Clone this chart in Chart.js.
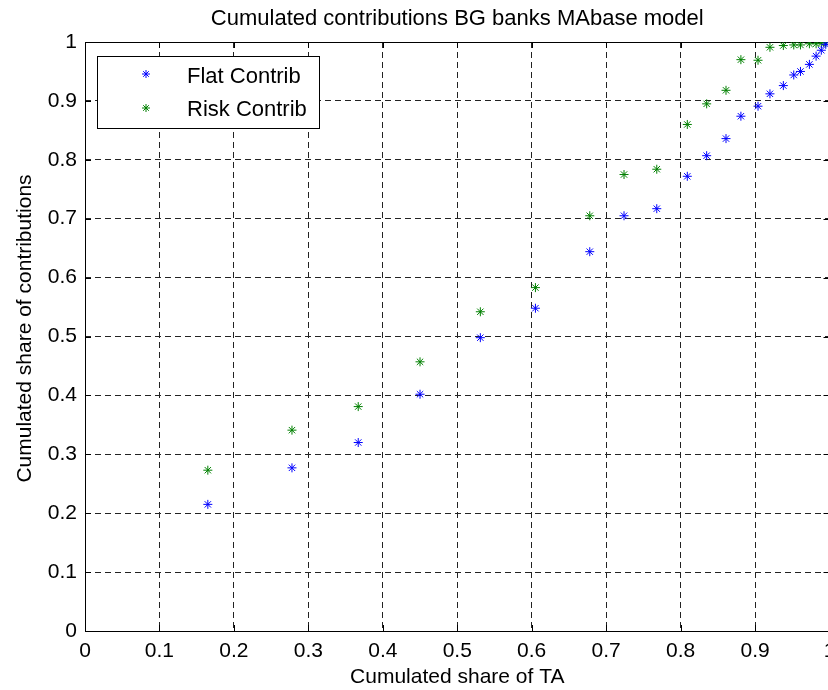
<!DOCTYPE html>
<html>
<head>
<meta charset="utf-8">
<script src="https://cdn.jsdelivr.net/npm/chart.js@4/dist/chart.umd.min.js"></script>
<style>
  html, body { margin: 0; padding: 0; background: #fff; overflow: hidden; }
  #clip { position: relative; width: 828px; height: 690px; overflow: hidden; }
  #myChart { position: absolute; left: 0; top: 0; }
</style>
</head>
<body>
<div id="clip"><canvas id="myChart" width="840" height="690"></canvas></div>
<script>
// cumulated share of total assets (x), shared by both series
const shareTA = [0.165, 0.278, 0.367, 0.450, 0.531, 0.605, 0.678, 0.724, 0.768, 0.809, 0.835,
                 0.861, 0.881, 0.904, 0.920, 0.938, 0.952, 0.961, 0.973, 0.982, 0.989, 0.995];
const flatContrib = [0.215, 0.277, 0.320, 0.402, 0.498, 0.548, 0.644, 0.705, 0.717, 0.772, 0.807,
                     0.836, 0.874, 0.891, 0.912, 0.926, 0.944, 0.950, 0.962, 0.976, 0.986, 0.996];
const riskContrib = [0.273, 0.341, 0.381, 0.457, 0.542, 0.583, 0.705, 0.775, 0.784, 0.860, 0.895,
                     0.918, 0.970, 0.969, 0.991, 0.994, 0.995, 0.995, 0.997, 0.997, 0.998, 0.999];
const tickLabels = ['0', '0.1', '0.2', '0.3', '0.4', '0.5', '0.6', '0.7', '0.8', '0.9', '1'];
const seriesNames = ['Flat Contrib', 'Risk Contrib'];
const chartTitle = 'Cumulated contributions BG banks MAbase model';
const yTitle = 'Cumulated share of contributions';

const FONT = 'Liberation Sans, Arial, Helvetica, sans-serif';

function toPoints(ys) {
    return shareTA.map(function(x, i) { return { x: x, y: ys[i] }; });
}

function star(ctx, x, y, r, color) {
    ctx.save();
    ctx.strokeStyle = color;
    ctx.lineWidth = 1;
    ctx.beginPath();
    ctx.moveTo(x - r, y); ctx.lineTo(x + r, y);
    ctx.moveTo(x, y - r); ctx.lineTo(x, y + r);
    const d = r * 0.7;
    ctx.moveTo(x - d, y - d); ctx.lineTo(x + d, y + d);
    ctx.moveTo(x - d, y + d); ctx.lineTo(x + d, y - d);
    ctx.stroke();
    ctx.restore();
}

// axes box, inward ticks, titles and legend
const frame = {
    id: 'frame',
    beforeDatasetsDraw(chart) {
        const ctx = chart.ctx;
        const a = chart.chartArea;
        const xs = chart.scales.x, ys = chart.scales.y;
        ctx.save();
        ctx.strokeStyle = '#000';
        ctx.lineWidth = 1;
        ctx.strokeRect(Math.round(a.left) + 0.5, Math.round(a.top) + 0.5,
                       Math.round(a.right - a.left), Math.round(a.bottom - a.top));
        ctx.beginPath();
        xs.ticks.forEach(function(t) {
            const px = Math.round(xs.getPixelForValue(t.value)) + 0.5;
            ctx.moveTo(px, a.bottom); ctx.lineTo(px, a.bottom - 6);
            ctx.moveTo(px, a.top); ctx.lineTo(px, a.top + 6);
        });
        ys.ticks.forEach(function(t) {
            const py = Math.round(ys.getPixelForValue(t.value)) + 0.5;
            ctx.moveTo(a.left, py); ctx.lineTo(a.left + 6, py);
            ctx.moveTo(a.right, py); ctx.lineTo(a.right - 6, py);
        });
        ctx.stroke();
        ctx.restore();
    },
    afterDraw(chart) {
        const ctx = chart.ctx;
        const a = chart.chartArea;
        ctx.save();
        ctx.fillStyle = '#000';
        ctx.font = '22px ' + FONT;
        ctx.textAlign = 'center';
        ctx.textBaseline = 'alphabetic';
        ctx.fillText(chartTitle, (a.left + a.right) / 2, 25);

        // y axis label, reading upwards
        ctx.save();
        ctx.font = '21px ' + FONT;
        ctx.translate(31, 328.5);
        ctx.rotate(-Math.PI / 2);
        ctx.fillText(yTitle, 0, 0);
        ctx.restore();

        // legend box
        ctx.fillStyle = '#fff';
        ctx.fillRect(97, 56, 222, 72);
        ctx.strokeStyle = '#000';
        ctx.lineWidth = 1;
        ctx.strokeRect(97.5, 56.5, 222, 72);
        const ds = chart.data.datasets;
        star(ctx, 146, 74, 4, ds[0].borderColor);
        star(ctx, 146, 108, 4, ds[1].borderColor);
        ctx.fillStyle = '#000';
        ctx.font = '22px ' + FONT;
        ctx.textAlign = 'left';
        ctx.fillText(seriesNames[0], 187, 83);
        ctx.fillText(seriesNames[1], 187, 116);
        ctx.restore();
    }
};

const ctx = document.getElementById('myChart').getContext('2d');
const myChart = new Chart(ctx, {
    type: 'scatter',
    data: {
        datasets: [{
            label: seriesNames[0],
            data: toPoints(flatContrib),
            borderColor: '#0000ff',
            backgroundColor: '#0000ff',
            pointStyle: 'star',
            pointRadius: 4.5,
            borderWidth: 1
        }, {
            label: seriesNames[1],
            data: toPoints(riskContrib),
            borderColor: '#008000',
            backgroundColor: '#008000',
            pointStyle: 'star',
            pointRadius: 4.5,
            borderWidth: 1
        }]
    },
    plugins: [frame],
    options: {
        responsive: false,
        animation: false,
        events: [],
        layout: { padding: { left: 0, right: 10.5, top: 42, bottom: 0 } },
        plugins: {
            legend: { display: false },
            title: { display: false },
            tooltip: { enabled: false }
        },
        scales: {
            x: {
                type: 'linear',
                min: 0,
                max: 1,
                ticks: {
                    stepSize: 0.1,
                    padding: 8,
                    color: '#000',
                    maxRotation: 0,
                    autoSkip: false,
                    font: { family: FONT, size: 21 },
                    callback: function(v, i) { return tickLabels[i]; }
                },
                grid: { color: '#222', lineWidth: 1, drawTicks: false },
                border: { display: false, dash: [6, 4] },
                title: {
                    display: true,
                    text: 'Cumulated share of TA',
                    color: '#000',
                    font: { family: FONT, size: 21 },
                    padding: { top: 0, bottom: 0 }
                },
                afterFit: function(s) { s.height = 59; s.paddingLeft = 0; s.paddingRight = 0; }
            },
            y: {
                type: 'linear',
                min: 0,
                max: 1,
                ticks: {
                    stepSize: 0.1,
                    padding: 8,
                    color: '#000',
                    autoSkip: false,
                    font: { family: FONT, size: 21 },
                    callback: function(v, i) { return tickLabels[i]; }
                },
                grid: { color: '#222', lineWidth: 1, drawTicks: false },
                border: { display: false, dash: [6, 4] },
                afterFit: function(s) { s.width = 85; s.paddingTop = 0; s.paddingBottom = 0; }
            }
        }
    }
});
</script>
</body>
</html>
